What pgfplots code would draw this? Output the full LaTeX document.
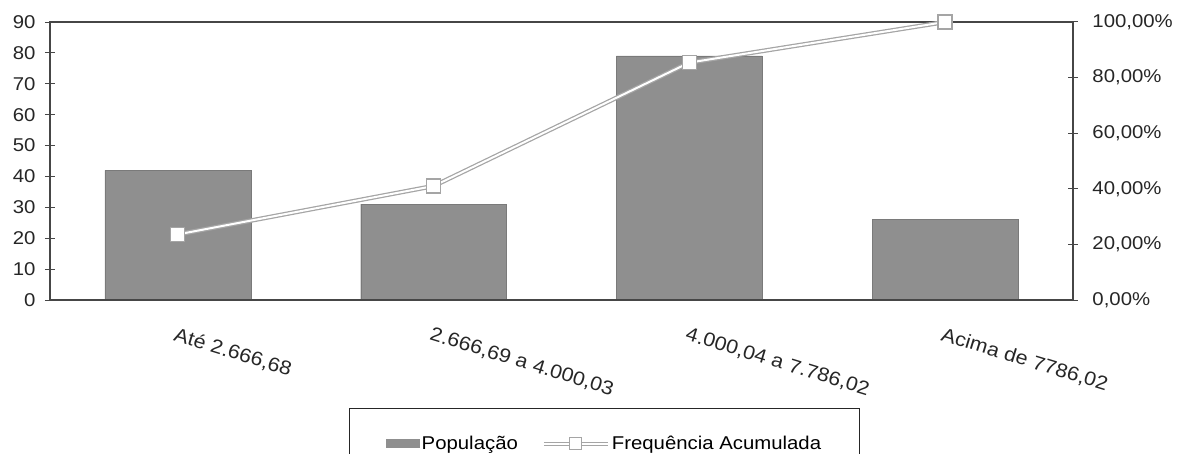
\documentclass[border=0pt]{standalone}
\usepackage{fontspec}
\setmainfont{Liberation Sans}[FakeStretch=1.1]
\usepackage{pgfplots}
\pgfplotsset{compat=1.18}
\definecolor{barfill}{RGB}{143,143,143}
\definecolor{framec}{RGB}{70,70,70}
\definecolor{linegray}{RGB}{165,165,165}
\begin{document}
\begin{tikzpicture}
\useasboundingbox (0pt,0pt) rectangle (1177pt,453pt);
\pgfplotsset{
  common/.style={
    at={(50pt,153pt)}, anchor=south west,
    width=1023pt, height=278pt, scale only axis,
    xmin=-0.5, xmax=3.5,
    axis line style={framec, line width=1.2pt},
    tick style={framec, line width=1pt},
    tick align=center, major tick length=10pt, minor tick length=10pt,
    tick label style={font=\fontsize{18.5}{21}\selectfont, text=black!85},
    /pgf/number format/assume math mode=true,
  }
}
\begin{axis}[common,
  ymin=0, ymax=90, ytick={0,10,...,90}, ytick pos=left,
  yticklabel style={xshift=-6pt},
  xtick={0,1,2,3}, x tick style={draw=none},
  xticklabels={{Até 2.666,68},{2.666,69 a 4.000,03},{4.000,04 a 7.786,02},{Acima de 7786,02}},
  xticklabel style={rotate=-17, anchor=north west, inner sep=0pt, yshift=-16pt, xshift=4pt, font=\fontsize{19.5}{22}\selectfont},
  minor xtick={0.5,1.5,2.5}, minor x tick style={framec, line width=1pt},
  xtick pos=bottom,
  ybar, bar width=0.57,
]
\addplot[fill=barfill, draw=barfill!85!black] coordinates {(0,42) (1,31) (2,79) (3,26)};
\end{axis}
\begin{axis}[common,
  ymin=0, ymax=1, ytick={0,0.2,0.4,0.6,0.8,1}, ytick pos=right,
  yticklabels={{0,00\%},{20,00\%},{40,00\%},{60,00\%},{80,00\%},{100,00\%}},
  yticklabel style={xshift=11pt},
  xtick=\empty,
  legend columns=2,
  legend style={at={(0.542,-0.388)}, anchor=north, draw=black!85, line width=1pt,
    font=\fontsize{18.5}{22}\selectfont, inner xsep=36pt, inner ysep=26pt,
    /tikz/every even column/.append style={column sep=22pt}},
]
\addlegendimage{legend image code/.code={\fill[barfill] (0pt,-4pt) rectangle (33pt,4pt);}}
\addlegendentry{População}
\addplot[linegray, line width=4.5pt, forget plot] coordinates {(0,0.236) (1,0.410) (2,0.854) (3,1.0)};
\addplot[white, line width=2pt, mark=square*, mark size=7pt,
  mark options={fill=white, draw=linegray, line width=1.2pt},
  legend image code/.code={
    \draw[linegray, line width=4pt] (0pt,0pt) -- (64pt,0pt);
    \draw[white, line width=2pt] (0pt,0pt) -- (64pt,0pt);
    \draw[linegray, fill=white, line width=1pt] (26pt,-6pt) rectangle (38pt,6pt);}]
  coordinates {(0,0.236) (1,0.410) (2,0.854) (3,1.0)};
\addlegendentry{Frequência Acumulada}
\end{axis}
\end{tikzpicture}
\end{document}
